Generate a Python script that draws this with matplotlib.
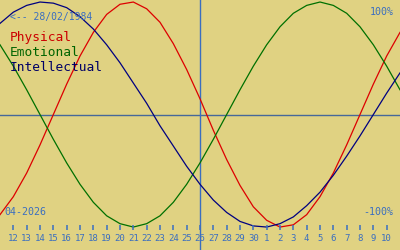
"""
Biorhythm chart: Physical / Emotional / Intellectual, April 2026
"""

import matplotlib
matplotlib.use('Agg')
import matplotlib.pyplot as plt

# data (one value per day, first and last point just outside the axis)
day_labels = [12, 13, 14, 15, 16, 17, 18, 19, 20, 21, 22, 23, 24, 25, 26, 27, 28, 29, 30,
              1, 2, 3, 4, 5, 6, 7, 8, 9, 10]
physical = [-0.89, -0.73, -0.52, -0.27, 0.00, 0.27, 0.52, 0.73, 0.89, 0.98, 1.00,
            0.94, 0.82, 0.63, 0.40, 0.14, -0.14, -0.40, -0.63, -0.82, -0.94,
            -1.00, -0.98, -0.89, -0.73, -0.52, -0.27, 0.00, 0.27, 0.52, 0.73]
emotional = [0.62, 0.43, 0.22, 0.00, -0.22, -0.43, -0.62, -0.78, -0.90, -0.97, -1.00,
             -0.97, -0.90, -0.78, -0.62, -0.43, -0.22, 0.00, 0.22, 0.43, 0.62,
             0.78, 0.90, 0.97, 1.00, 0.97, 0.90, 0.78, 0.62, 0.43, 0.22]
intellectual = [0.81, 0.91, 0.97, 1.00, 0.99, 0.95, 0.87, 0.76, 0.62, 0.46, 0.28,
                0.10, -0.10, -0.28, -0.46, -0.62, -0.76, -0.87, -0.95, -0.99, -1.00,
                -0.97, -0.91, -0.81, -0.69, -0.54, -0.37, -0.19, 0.00, 0.19, 0.37]
today = 26
birth_text = '<-- 28/02/1984'
month_text = '04-2026'

bg = '#E0D282'
txt_blue = '#3A6EC0'
mono = ['DejaVu Sans Mono']

fig = plt.figure(figsize=(4, 2.5), dpi=100, facecolor=bg)
ax = fig.add_axes([0, 0, 1, 1], facecolor=bg)
ax.set_xlim(0, 30)
ax.set_ylim(-1.204, 1.018)
ax.axis('off')

pos = list(range(len(physical)))

# axes lines
ax.axhline(0, color='#46689A', lw=1.0)
today_pos = day_labels.index(today) + 1
ax.axvline(today_pos, color=txt_blue, lw=1.0)

# curves
ax.plot(pos, physical, color='#DD0000', lw=0.9)
ax.plot(pos, emotional, color='#007000', lw=0.9)
ax.plot(pos, intellectual, color='#000080', lw=0.9)

# day ticks
tick_pos = [i + 1 for i in range(len(day_labels))]
ax.vlines(tick_pos, -1.03, -0.985, colors=txt_blue, lw=1.1)
for p, d in zip(tick_pos, day_labels):
    ax.text(p, -1.098, str(d), color=txt_blue, fontsize=6.5, family=mono,
            ha='center', va='center')

# labels
ax.text(0.75, 0.87, birth_text, color=txt_blue, fontsize=7, family=mono,
        ha='left', va='center')
ax.text(0.75, 0.685, 'Physical', color='#CC0000', fontsize=9.3, family=mono,
        ha='left', va='center')
ax.text(0.75, 0.55, 'Emotional', color='#006400', fontsize=9.3, family=mono,
        ha='left', va='center')
ax.text(0.75, 0.415, 'Intellectual', color='#000066', fontsize=9.3, family=mono,
        ha='left', va='center')
ax.text(29.5, 0.91, '100%', color=txt_blue, fontsize=7.2, family=mono,
        ha='right', va='center')
ax.text(29.5, -0.867, '-100%', color=txt_blue, fontsize=7.2, family=mono,
        ha='right', va='center')
ax.text(0.35, -0.867, month_text, color=txt_blue, fontsize=7.2, family=mono,
        ha='left', va='center')

fig.savefig('out.png', dpi=100, facecolor=bg)
plt.close(fig)
